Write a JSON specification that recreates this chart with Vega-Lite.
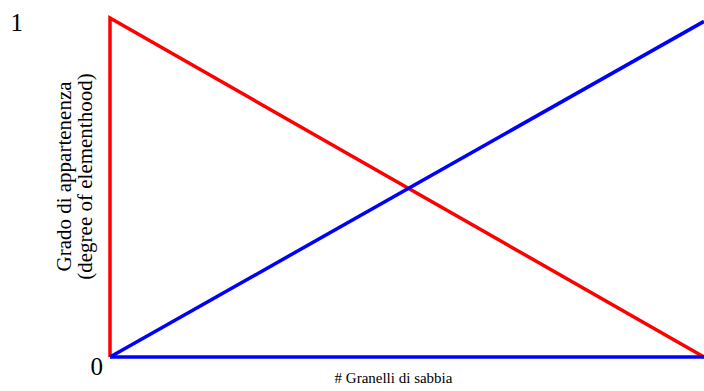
{
  "$schema": "https://vega.github.io/schema/vega-lite/v6.json",
  "width": 594,
  "height": 339,
  "autosize": {"type": "none"},
  "padding": {"left": 110, "top": 18, "right": 0, "bottom": 34},
  "background": "white",
  "config": {"view": {"stroke": null}, "font": "Liberation Serif"},
  "datasets": {
    "lines": [
      {"series": "red", "order": 1, "x": 0, "y": 0},
      {"series": "red", "order": 2, "x": 0, "y": 1},
      {"series": "red", "order": 3, "x": 100, "y": 0},
      {"series": "blueflat", "order": 1, "x": 0, "y": 0},
      {"series": "blueflat", "order": 2, "x": 100, "y": 0},
      {"series": "blue", "order": 1, "x": 0, "y": 0},
      {"series": "blue", "order": 2, "x": 100, "y": 0.99}
    ],
    "labels": [
      {"x": 0, "y": 1, "label": "1", "pos": "top"},
      {"x": 0, "y": 0, "label": "0", "pos": "bottom"}
    ]
  },
  "layer": [
    {
      "data": {"name": "lines"},
      "mark": {"type": "line", "strokeWidth": 3.5, "clip": false},
      "encoding": {
        "x": {"field": "x", "type": "quantitative", "scale": {"domain": [0, 100]},
              "axis": {"title": "# Granelli di sabbia", "labels": false, "ticks": false, "domain": false, "grid": false,
                       "titleFont": "Liberation Serif", "titleFontWeight": "normal", "titleFontSize": 15, "titleColor": "black", "titlePadding": 13, "titleX": 283}},
        "y": {"field": "y", "type": "quantitative", "scale": {"domain": [0, 1]},
              "axis": {"title": ["Grado di appartenenza", "(degree of elementhood)"], "labels": false, "ticks": false, "domain": false, "grid": false,
                       "titleFont": "Liberation Serif", "titleFontWeight": "normal", "titleFontSize": 21, "titleColor": "black", "titlePadding": 15, "titleLineHeight": 21, "titleY": 158}},
        "detail": {"field": "series"},
        "order": {"field": "order"},
        "color": {"field": "series", "type": "nominal",
                  "scale": {"domain": ["red", "blueflat", "blue"], "range": ["#ff0000", "#0000ff", "#0000ff"]},
                  "legend": null}
      }
    },
    {
      "data": {"name": "labels"},
      "transform": [{"filter": "datum.pos == 'top'"}],
      "mark": {"type": "text", "font": "Liberation Serif", "fontSize": 25, "align": "right", "baseline": "middle", "dx": -87, "dy": 5, "color": "black", "clip": false},
      "encoding": {
        "x": {"field": "x", "type": "quantitative"},
        "y": {"field": "y", "type": "quantitative"},
        "text": {"field": "label"}
      }
    },
    {
      "data": {"name": "labels"},
      "transform": [{"filter": "datum.pos == 'bottom'"}],
      "mark": {"type": "text", "font": "Liberation Serif", "fontSize": 25, "align": "right", "baseline": "middle", "dx": -7, "dy": 10, "color": "black", "clip": false},
      "encoding": {
        "x": {"field": "x", "type": "quantitative"},
        "y": {"field": "y", "type": "quantitative"},
        "text": {"field": "label"}
      }
    }
  ]
}
